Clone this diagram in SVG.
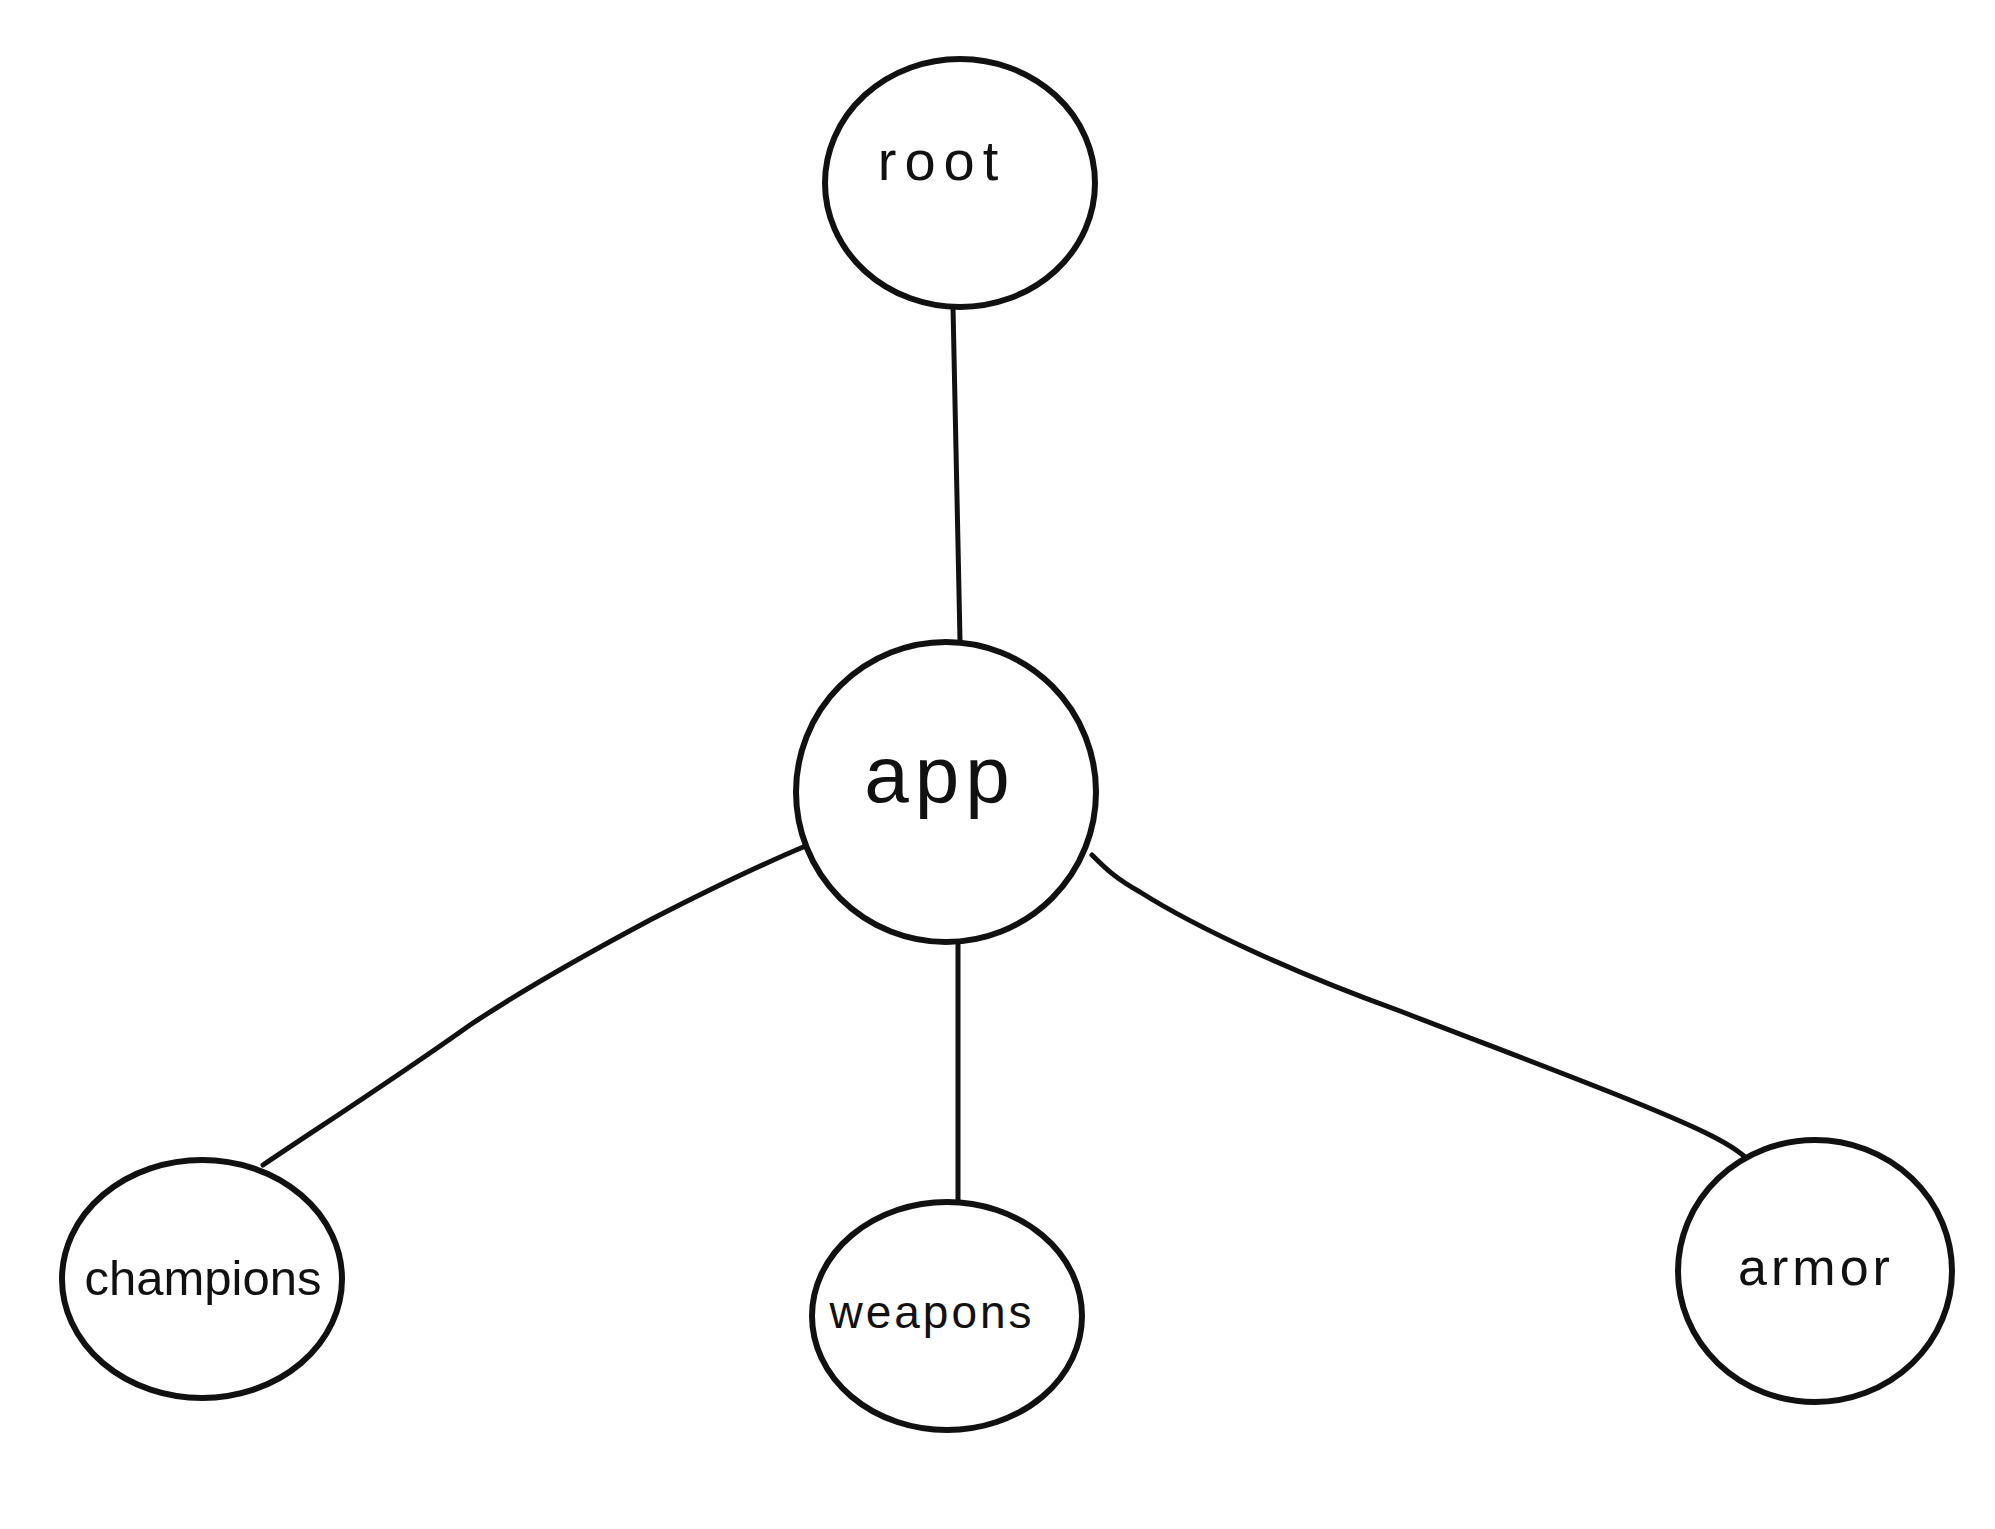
<svg xmlns="http://www.w3.org/2000/svg" width="1995" height="1529" viewBox="0 0 1995 1529">
<style>
.n{fill:#fff;stroke:#111;stroke-width:6}
.e{fill:none;stroke:#111;stroke-width:5;stroke-linecap:round;stroke-linejoin:round}
.t{font-family:"Liberation Sans",Arial,sans-serif;fill:#111;text-anchor:middle}
</style>
<rect width="1995" height="1529" fill="#fff"/>
<g id="connectors">
<path class="e" d="M953,307 L960,640"/>
<path class="e" d="M808,845 C760,865 712,888 650,920 C590,952 530,985 470,1025 C400,1075 330,1120 263,1165"/>
<path class="e" d="M958,945 L958,1203"/>
<path class="e" d="M1092,855 C1105,868 1115,878 1140,892 C1200,930 1300,975 1400,1011 C1500,1050 1650,1105 1710,1135 C1730,1145 1745,1155 1753,1165"/>
</g>
<g id="root">
<ellipse class="n" cx="960" cy="183" rx="135" ry="124"/>
<text class="t" x="942" y="180" font-size="56" letter-spacing="8">root</text>
</g>
<g id="app">
<circle class="n" cx="946" cy="792" r="150"/>
<text class="t" x="940" y="802" font-size="80" letter-spacing="6">app</text>
</g>
<g id="champions">
<ellipse class="n" cx="202" cy="1279" rx="140" ry="119"/>
<text class="t" x="203" y="1295" font-size="49">champions</text>
</g>
<g id="weapons">
<ellipse class="n" cx="947" cy="1316" rx="135" ry="114"/>
<text class="t" x="932" y="1328" font-size="46" letter-spacing="3">weapons</text>
</g>
<g id="armor">
<ellipse class="n" cx="1815" cy="1271" rx="137" ry="131"/>
<text class="t" x="1816" y="1285" font-size="52" letter-spacing="4">armor</text>
</g>
</svg>
